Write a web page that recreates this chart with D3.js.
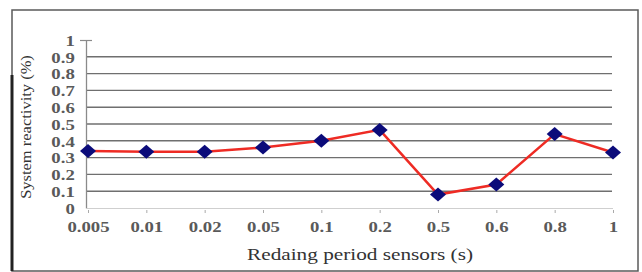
<!DOCTYPE html>
<html><head><meta charset="utf-8">
<script src="https://cdn.jsdelivr.net/npm/d3@7/dist/d3.min.js"></script>
<style>html,body{margin:0;padding:0;background:#fff;}svg{display:block;}</style>
</head><body>
<svg id="c" width="642" height="272"></svg>
<script>
const categories = ["0.005","0.01","0.02","0.05","0.1","0.2","0.5","0.6","0.8","1"];
const reactivity = [0.34,0.335,0.335,0.36,0.40,0.465,0.08,0.14,0.44,0.33];
const yTicks = [0,0.1,0.2,0.3,0.4,0.5,0.6,0.7,0.8,0.9,1];
const yTickLabels = ["0","0.1","0.2","0.3","0.4","0.5","0.6","0.7","0.8","0.9","1"];
const xTitle = "Redaing period sensors (s)";
const yTitle = "System reactivity (%)";

const svg = d3.select("#c");
const font = "Liberation Serif";
const stretch = 1.25;

// frame
svg.append("rect").attr("x",12).attr("y",10).attr("width",626).attr("height",261)
  .attr("fill","#fff").attr("stroke","#5a5a5a").attr("stroke-width",1.5);
svg.append("line").attr("x1",12).attr("x2",12).attr("y1",75).attr("y2",271)
  .attr("stroke","#222").attr("stroke-width",3);

const x = d3.scalePoint().domain(categories).range([88,613]);
const y = d3.scaleLinear().domain([0,1]).range([208,40]);

// gridlines
svg.append("g").selectAll("line").data(yTicks.filter(d=>d>0 && d<1)).join("line")
  .attr("x1",86).attr("x2",612).attr("y1",d=>y(d)).attr("y2",d=>y(d))
  .attr("stroke","#6f6f6f").attr("stroke-width",1.4);

// y axis
const yAxis = d3.axisLeft(y).tickValues(yTicks).tickSize(6).tickSizeOuter(0)
  .tickFormat((d,i)=>yTickLabels[i]);
const gy = svg.append("g").attr("transform","translate(86,0)").call(yAxis);
gy.select(".domain").attr("stroke","#8a8a8a").attr("stroke-width",1.3);
gy.selectAll(".tick line").attr("stroke","#8a8a8a").attr("stroke-width",1.2)
  .attr("x2",d=>d===1?6:0).attr("x1",d=>d===1?-6:0);
gy.selectAll(".tick text").attr("x",-9).attr("dy","0.35em")
  .attr("transform",`scale(${stretch},1)`)
  .attr("font-family",font).attr("font-size",15).attr("font-weight","bold").attr("fill","#5a5a5a");

// x axis
const xAxis = d3.axisBottom(x).tickSize(3).tickSizeOuter(0);
const gx = svg.append("g").attr("transform","translate(0,208)").call(xAxis);
gx.select(".domain").attr("stroke","#cfcfcf").attr("stroke-width",1).attr("d","M86,0.5H613");
gx.selectAll(".tick line").attr("stroke","#aaa").attr("y1",2).attr("y2",5);
gx.selectAll(".tick text").attr("y",13).attr("dy","0.71em")
  .attr("transform",`scale(${stretch},1)`)
  .attr("font-family",font).attr("font-size",15).attr("font-weight","bold").attr("fill","#5a5a5a");

// line
const line = d3.line().x((d,i)=>x(categories[i])).y(d=>y(d));
svg.append("path").datum(reactivity).attr("d",line).attr("fill","none")
  .attr("stroke","#ee2b24").attr("stroke-width",2.5);

// markers
svg.append("g").selectAll("path").data(reactivity).join("path")
  .attr("transform",(d,i)=>`translate(${x(categories[i])},${y(d)})`)
  .attr("d","M0,-7L8,0L0,7L-8,0Z").attr("fill","#0b0b7a");

// titles
svg.append("text").attr("transform",`translate(360,260) scale(${stretch},1)`).attr("text-anchor","middle")
  .attr("font-family",font).attr("font-size",17).attr("fill","#333").text(xTitle);
svg.append("text").attr("transform","translate(31,127) rotate(-90) scale(1.1,1)").attr("text-anchor","middle")
  .attr("font-family",font).attr("font-size",15).attr("fill","#333").text(yTitle);
</script>
</body></html>
